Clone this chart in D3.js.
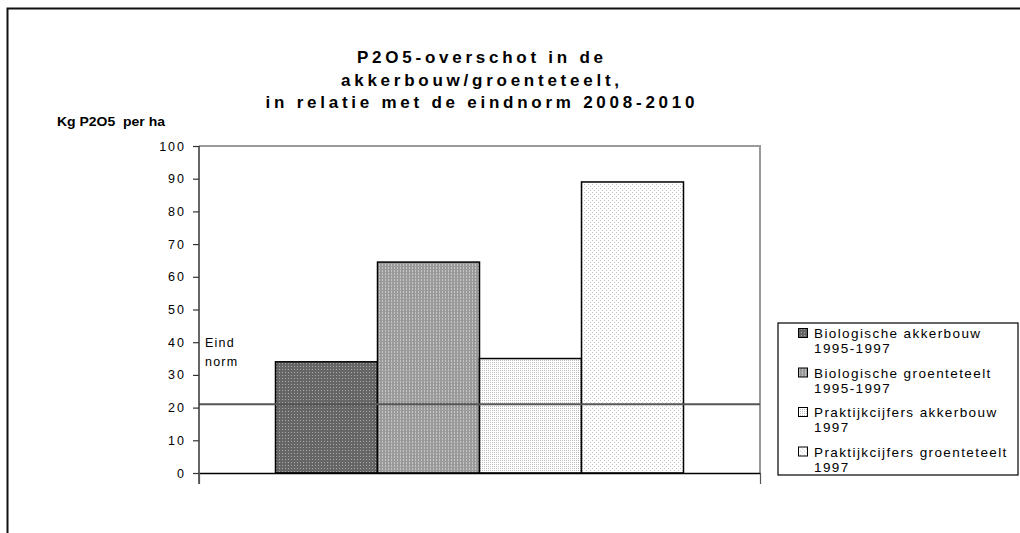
<!DOCTYPE html>
<html>
<head>
<meta charset="utf-8">
<script src="https://cdn.jsdelivr.net/npm/d3@7"></script>
<style>
  body { margin: 0; background: #fff; }
  text { font-family: "Liberation Sans", Arial, sans-serif; fill: #000; }
</style>
</head>
<body>
<div id="chart"></div>
<script>
// chart data
var titleLines = ['P2O5-overschot in de', 'akkerbouw/groenteteelt,', 'in relatie met de eindnorm 2008-2010']
var yLabel = 'Kg P2O5  per ha'
var seriesLabels = [
  ['Biologische akkerbouw', '1995-1997'],
  ['Biologische groenteteelt', '1995-1997'],
  ['Praktijkcijfers akkerbouw', '1997'],
  ['Praktijkcijfers groenteteelt', '1997']
]
var values = [34, 64.5, 35, 89]
var normValue = 21
var normLabel = ['Eind', 'norm']
var yTicks = [0, 10, 20, 30, 40, 50, 60, 70, 80, 90, 100]

var width = 1020, height = 533
var svg = d3.select('#chart').append('svg')
  .attr('width', width)
  .attr('height', height)

// fill patterns, one per series
var defs = svg.append('defs')
var patterns = [
  { id: 'p0', size: 3, bg: '#666', dot: '#a9a9a9', dots: [[0, 0]] },
  { id: 'p1', size: 3, bg: '#9a9a9a', dot: '#c4c4c4', dots: [[1, 0], [1, 1]] },
  { id: 'p2', size: 2, bg: '#fff', dot: '#bdbdbd', dots: [[0, 0]] },
  { id: 'p3', size: 4, bg: '#fff', dot: '#c2c2c2', dots: [[0, 0], [2, 2]] }
]
patterns.forEach(p => {
  var pat = defs.append('pattern')
    .attr('id', p.id)
    .attr('patternUnits', 'userSpaceOnUse')
    .attr('width', p.size)
    .attr('height', p.size)
  pat.append('rect')
    .attr('width', p.size)
    .attr('height', p.size)
    .style('fill', p.bg)
  p.dots.forEach(d => {
    pat.append('rect')
      .attr('x', d[0])
      .attr('y', d[1])
      .attr('width', 1)
      .attr('height', 1)
      .style('fill', p.dot)
  })
})

// outer chart border (runs off the picture at right and bottom)
svg.append('rect')
  .attr('x', 7.5)
  .attr('y', 8.5)
  .attr('width', 1040)
  .attr('height', 560)
  .style('fill', 'none')
  .style('stroke', '#111')
  .style('stroke-width', 2)

var plot = { left: 199, right: 760, top: 146, bottom: 473 }

var yMap = d3.scaleLinear()
  .domain([0, 100])
  .range([plot.bottom, plot.top])

var xCat = d3.scaleBand()
  .domain(['all'])
  .range([plot.left, plot.right])
  .paddingInner(0)
  .paddingOuter(0.1875)

var xSeries = d3.scaleBand()
  .domain(d3.range(values.length))
  .range([xCat('all'), xCat('all') + xCat.bandwidth()])
  .padding(0)

// title
svg.append('g').selectAll('text')
  .data(titleLines).enter()
  .append('text')
  .attr('x', 480 + 1.9)
  .attr('y', (d, i) => 63 + i * 22.5)
  .style('text-anchor', 'middle')
  .style('font-size', '17px')
  .style('font-weight', 'bold')
  .style('letter-spacing', '3.75px')
  .text(d => d)

svg.append('text')
  .attr('x', 57)
  .attr('y', 126)
  .style('font-size', '13px')
  .style('font-weight', 'bold')
  .style('white-space', 'pre')
  .attr('textLength', 108)
  .attr('lengthAdjust', 'spacingAndGlyphs')
  .text(yLabel)

// plot area frame (grey top and right)
svg.append('path')
  .attr('d', 'M' + plot.left + ',' + plot.top + 'H' + plot.right + 'V' + plot.bottom)
  .style('fill', 'none')
  .style('stroke', '#999')
  .style('stroke-width', 2)

// bars
svg.append('g').selectAll('rect')
  .data(values).enter()
  .append('rect')
  .attr('x', (d, i) => xSeries(i))
  .attr('y', d => yMap(d))
  .attr('width', xSeries.bandwidth())
  .attr('height', d => yMap(0) - yMap(d))
  .style('fill', (d, i) => 'url(#p' + i + ')')
  .style('stroke', '#000')
  .style('stroke-width', 1.5)

// norm line
svg.append('line')
  .attr('x1', plot.left)
  .attr('x2', plot.right)
  .attr('y1', yMap(normValue))
  .attr('y2', yMap(normValue))
  .style('stroke', '#555')
  .style('stroke-width', 2)

svg.append('g').selectAll('text')
  .data(normLabel).enter()
  .append('text')
  .attr('x', 205)
  .attr('y', (d, i) => yMap(normValue) - 57 + i * 19)
  .style('font-size', '12.5px')
  .style('letter-spacing', '1.2px')
  .text(d => d)

// y axis
var yAxis = d3.axisLeft(yMap)
  .tickValues(yTicks)
  .tickSize(6)
  .tickPadding(9)
  .tickSizeOuter(0)

var gY = svg.append('g')
  .attr('transform', 'translate(' + plot.left + ',0)')
  .call(yAxis)

gY.select('.domain').remove()
gY.selectAll('.tick line').style('stroke', '#333').style('stroke-width', 1.2)
gY.selectAll('.tick text')
  .attr('dx', 2)
  .style('font-family', '"Liberation Sans", Arial, sans-serif')
  .style('font-size', '12.5px')
  .style('letter-spacing', '2px')
  .style('fill', '#000')

svg.append('line')
  .attr('x1', plot.left)
  .attr('x2', plot.left)
  .attr('y1', plot.top)
  .attr('y2', plot.bottom + 11)
  .style('stroke', '#333')
  .style('stroke-width', 1.5)

// x axis with boundary ticks
var xAxis = d3.axisBottom(d3.scaleLinear().domain([0, 1]).range([plot.left, plot.right]))
  .tickValues([0, 1])
  .tickSize(11)
  .tickFormat('')
  .tickSizeOuter(0)

var gX = svg.append('g')
  .attr('transform', 'translate(0,' + plot.bottom + ')')
  .call(xAxis)

gX.select('.domain').style('stroke', '#000').style('stroke-width', 1.5)
gX.selectAll('.tick line').style('stroke', '#555').style('stroke-width', 1.2)

// legend
var legend = svg.append('g')
legend.append('rect')
  .attr('x', 778)
  .attr('y', 323)
  .attr('width', 240)
  .attr('height', 152)
  .style('fill', '#fff')
  .style('stroke', '#000')
  .style('stroke-width', 1.2)

var item = legend.selectAll('.item')
  .data(seriesLabels).enter()
  .append('g')
  .attr('class', 'item')
  .attr('transform', (d, i) => 'translate(798,' + (338 + i * 39.5) + ')')

item.append('rect')
  .attr('x', 0.5)
  .attr('y', -9.5)
  .attr('width', 9)
  .attr('height', 9)
  .style('fill', (d, i) => 'url(#p' + i + ')')
  .style('stroke', '#000')
  .style('stroke-width', 1)

item.selectAll('text')
  .data(d => d).enter()
  .append('text')
  .attr('x', 16)
  .attr('y', (d, i) => i * 15)
  .style('font-size', '13.5px')
  .style('letter-spacing', '1.4px')
  .text(d => d)
</script>
</body>
</html>
